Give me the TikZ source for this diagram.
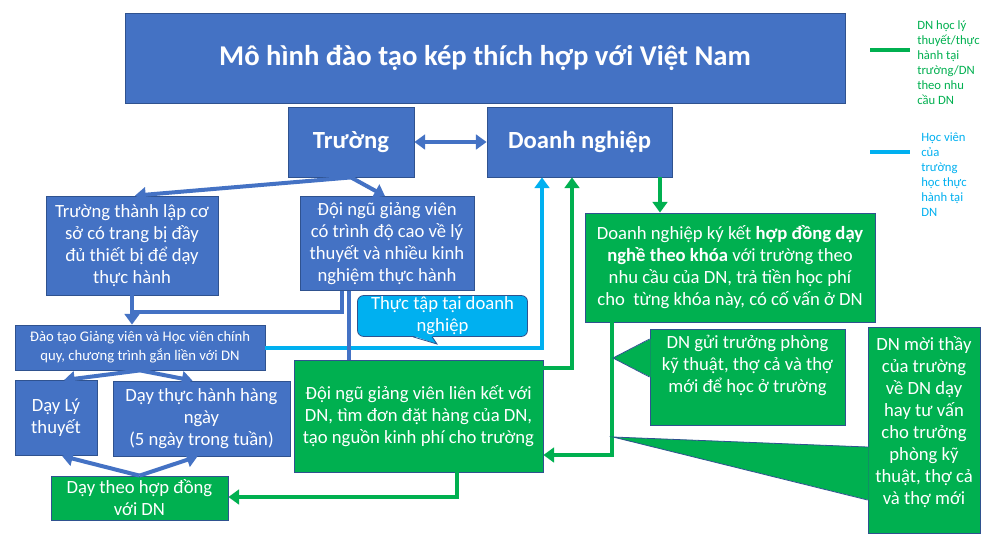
\documentclass[tikz,border=0pt]{standalone}
\usepackage{fontspec}
\setmainfont{Carlito}
\usetikzlibrary{arrows.meta,calc}
\definecolor{pblue}{HTML}{4472C4}
\definecolor{pgreen}{HTML}{00B050}
\definecolor{pcyan}{HTML}{00B0F0}
\definecolor{pborder}{HTML}{2F528F}
\begin{document}
\begin{tikzpicture}[x=0.75pt,y=-0.75pt,
  wh/.style 2 args={minimum width=#1*0.75pt,minimum height=#2*0.75pt},
  box/.style={draw=pborder,line width=0.6pt,text=white,align=center,inner sep=1pt,font=\fontsize{14}{16.5}\selectfont},
  bluebox/.style={box,fill=pblue},
  greenbox/.style={box,fill=pgreen},
  txt/.style={text=white,align=center,inner sep=0pt,font=\fontsize{14}{16.5}\selectfont},
  tip/.style={-{Triangle[width=11pt,length=8pt]}},
  bconn/.style={line width=3pt,draw=pblue,tip},
  gconn/.style={line width=3pt,draw=pgreen,tip},
  cconn/.style={line width=3pt,draw=pcyan,tip},
  bline/.style={line width=3pt,draw=pblue},
]
\useasboundingbox (0,0) rectangle (985,540);
\fill[white] (0,0) rectangle (985,540);

% blue boxes
\node[bluebox,wh={720}{90},font=\bfseries\fontsize{21.5}{25}\selectfont] (title) at (485,58) {Mô hình đào tạo kép thích hợp với Việt Nam};
\node[bluebox,wh={126}{70},font=\bfseries\fontsize{18.5}{21}\selectfont] (truong) at (351,142) {Trường};
\node[bluebox,wh={185}{70},font=\bfseries\fontsize{18.5}{21}\selectfont] (dn) at (579.5,142) {Doanh nghiệp};
\node[bluebox,wh={172}{99}] (tl) at (132,245.5) {Trường thành lập cơ\\sở có trang bị đầy\\đủ thiết bị để dạy\\thực hành};
\node[bluebox,wh={174}{94}] (gv) at (387,243.5) {Đội ngũ giảng viên\\có trình độ cao về lý\\thuyết và nhiều kinh\\nghiệm thực hành};
\node[bluebox,wh={250}{45},font=\fontsize{11}{14.25}\selectfont] (daotao) at (140,347.5) {Đào tạo Giảng viên và Học viên chính\\quy, chương trình gắn liền với DN};
\node[bluebox,wh={82}{75}] (lt) at (56,418) {Dạy Lý\\thuyết};
\node[bluebox,wh={177}{75}] (th) at (201.5,418.5) {Dạy thực hành hàng\\ngày\\ (5 ngày trong tuần)};

% green boxes
\node[greenbox,wh={177}{44}] (hd) at (139.5,498) {Dạy theo hợp đồng\\với DN};
\node[greenbox,wh={249}{112}] (lk) at (418.5,416) {Đội ngũ giảng viên liên kết với\\DN, tìm đơn đặt hàng của DN,\\tạo nguồn kinh phí cho trường};
\node[greenbox,wh={290}{109}] (kk) at (730,267.5) {Doanh nghiệp ký kết \textbf{hợp đồng dạy}\\\textbf{nghề theo khóa} với trường theo\\nhu cầu của DN, trả tiền học phí\\cho\ \ từng khóa này, có cố vấn ở DN};

% connectors (blue)
\draw[line width=3pt,draw=pblue,{Triangle[width=11pt,length=8pt]}-{Triangle[width=11pt,length=8pt]}] (truong) -- (dn);
\draw[bconn] (truong.south) -- ($(tl.north)+(3,0)$);
\draw[bconn] (truong.south) -- ($(gv.north)+(-2,0)$);
\draw[bconn] (tl.south) -- (tl.south |- daotao.north);
\coordinate (gva) at ($(gv.south)+(-45,0)$);
\coordinate (gvb) at ($(gv.south)+(-38,0)$);
\draw[bline] (gva) |- (tl.south |- 0,312);
\draw[bconn] (daotao.south) -- ($(lt.north)+(8,0)$);
\draw[bconn] (daotao.south) -- ($(th.north)+(-9,0)$);
\draw[bconn] (hd.north) -- ($(lt.south)+(6,0)$);
\draw[bconn] (hd.north) -- ($(th.south)+(-4,0)$);

% cyan connector
\coordinate (dnc) at ($(dn.south)+(-37.5,0)$);
\draw[cconn] (daotao.east) -| (dnc);
\draw[bline] (gvb) -- (gvb |- lk.north);

% green connectors
\coordinate (lka) at ($(lk.north east)+(0,8)$);
\coordinate (dng) at ($(dn.south)+(-7.5,0)$);
\draw[gconn] (lka) -| (dng);
\coordinate (dnd) at ($(dn.south)+(80.5,0)$);
\draw[gconn] (dnd) -- (dnd |- kk.north);
\coordinate (kkb) at ($(kk.south)+(-118,0)$);
\draw[gconn] (kkb) |- (lk.east |- 0,455);
\coordinate (lkb) at ($(lk.south)+(38.5,0)$);
\draw[gconn] (lkb) |- (hd.east |- 0,497);

% cyan callout
\node[box,fill=pcyan,rounded corners=4.5pt,wh={170}{40}] (tt) at (442.5,316) {Thực tập tại doanh\\nghiệp};
\coordinate (tttip) at (437,344);
\fill[pcyan] ($(tt.south -| 413,0)+(0,-1)$) -- (tttip) -- ($(tt.south -| 432,0)+(0,-1)$) -- cycle;
\draw[pborder,line width=0.6pt] (tt.south -| 413,0) -- (tttip) -- (tt.south -| 432,0);

% green callouts
\node[greenbox,wh={195}{96}] (gui) at (747.5,377) {};
\node[txt] (guit) at (747.5,365) {DN gửi trưởng phòng\\kỹ thuật, thợ cả và thợ\\mới để học ở trường};
\coordinate (guitip) at (613,358);
\fill[pgreen] ($(gui.west |- 0,339)+(1,0)$) -- (guitip) -- ($(gui.west |- 0,377)+(1,0)$) -- cycle;
\draw[pborder,line width=0.6pt] (gui.west |- 0,339) -- (guitip) -- (gui.west |- 0,377);

\node[greenbox,wh={112}{206}] (moi) at (924,430) {};
\node[txt] (moit) at (924,422) {DN mời thầy\\của trường\\về DN dạy\\hay tư vấn\\cho trưởng\\phòng kỹ\\thuật, thợ cả\\và thợ mới};
\coordinate (moitip) at (613,437);
\fill[pgreen] ($(moi.west |- 0,447)+(1,0)$) -- (moitip) -- ($(moi.west |- 0,500)+(1,0)$) -- cycle;
\draw[pborder,line width=0.6pt] (moi.west |- 0,447) -- (moitip) -- (moi.west |- 0,500);

% legend
\coordinate (lga) at (870,50);
\coordinate (lgb) at (910,50);
\draw[line width=3pt,pgreen] (lga) -- (lgb);
\node[anchor=west,align=left,inner sep=0pt,text=pgreen,font=\fontsize{9.5}{11.3}\selectfont] (leg1) at (917,62.5) {DN học lý\\thuyết/thực\\hành tại\\trường/DN\\theo nhu\\cầu DN};
\coordinate (lgc) at (870,152);
\coordinate (lgd) at (910,152);
\draw[line width=3pt,pcyan] (lgc) -- (lgd);
\node[anchor=west,align=left,inner sep=0pt,text=pcyan,font=\fontsize{9.5}{11.3}\selectfont] (leg2) at (921,174.5) {Học viên\\của\\trường\\học thực\\hành tại\\DN};
\end{tikzpicture}
\end{document}
